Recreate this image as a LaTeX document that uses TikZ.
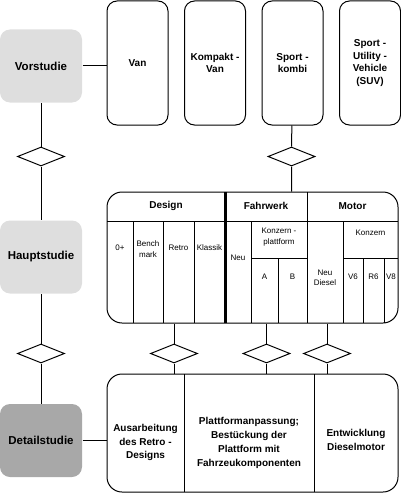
\documentclass[tikz,border=0pt]{standalone}
\usepackage{fontspec}
\setmainfont{Liberation Sans}
\usetikzlibrary{shapes.geometric, positioning}

\begin{document}
\begin{tikzpicture}[x=1pt, y=-1pt, line width=1pt, node distance=15.5pt,
    stage/.style={rectangle, rounded corners=10pt, minimum width=82pt, minimum height=73pt, inner sep=0pt, font=\fontsize{11.5}{13}\selectfont\bfseries},
    car/.style={draw, rectangle, rounded corners=10pt, minimum width=61pt, minimum height=124pt, inner sep=0pt, align=center, font=\fontsize{10}{12.5}\selectfont\bfseries},
    gate/.style={draw, diamond, fill=white, minimum width=47pt, minimum height=19pt, inner sep=0pt},
    head/.style={inner sep=0pt, font=\fontsize{10}{12}\selectfont\bfseries},
    cell/.style={align=center, inner sep=0pt, font=\fontsize{8}{10.5}\selectfont},
    task/.style={align=center, inner sep=0pt, font=\fontsize{10}{13.8}\selectfont\bfseries}]
        \useasboundingbox (0,0) rectangle (400,495);

        % Nodes
        \node (vor) [stage, fill=black!13] at (41,66) {Vorstudie};
        \node (haupt) [stage, fill=black!13] at (41,257) {Hauptstudie};
        \node (detail) [stage, fill=black!34] at (41,440.5) {Detailstudie};

        \node (van) [car] at (137.5,63) {Van};
        \node (kompakt) [car, right=of van] {Kompakt -\\Van};
        \node (kombi) [car, right=of kompakt] {Sport -\\kombi};
        \node (suv) [car, right=of kombi] {Sport -\\Utility -\\Vehicle\\(SUV)};

        % Hauptstudie table
        \node (hbox) [draw, rectangle, rounded corners=15pt, minimum width=291pt, minimum height=131pt, inner sep=0pt] at (252.5,257.5) {};
        \draw (107,221) -- (398,221);
        \draw (133,221) -- (133,323) (163,221) -- (163,323) (194,221) -- (194,323);
        \draw[line width=2.4pt] (225.5,192) -- (225.5,323);
        \draw (251,221) -- (251,323) (251,258) -- (307,258) (278,258) -- (278,323);
        \draw (307,192) -- (307,323);
        \draw (343,221) -- (343,323) (343,258) -- (398,258);
        \draw (363,258) -- (363,323) (384,258) -- (384,323);

        \node (design) [head] at (166,206) {Design};
        \node (fahrwerk) [head] at (266,206) {Fahrwerk};
        \node (motor) [head] at (352.5,206) {Motor};
        \node (nullplus) [cell] at (120,248) {0+};
        \node (bench) [cell] at (148,249) {Bench\\mark};
        \node (retro) [cell] at (178.5,248) {Retro};
        \node (klassik) [cell] at (209.5,248) {Klassik};
        \node (fneu) [cell] at (238,258) {Neu};
        \node (platt) [cell] at (279,237) {Konzern -\\plattform};
        \node (pa) [cell] at (264.5,277) {A};
        \node (pb) [cell] at (292.5,277) {B};
        \node (mneu) [cell] at (325,278) {Neu\\Diesel};
        \node (konzern) [cell] at (370.5,233) {Konzern};
        \node (vsix) [cell] at (353,277) {V6};
        \node (rsix) [cell] at (373.5,277) {R6};
        \node (veight) [cell] at (391,277) {V8};

        % Detailstudie table
        \node (dbox) [draw, rectangle, rounded corners=15pt, minimum width=291pt, minimum height=118pt, inner sep=0pt] at (252.5,433) {};
        \draw (184,374) -- (184,492) (314,374) -- (314,492);
        \node (ausarb) [task] at (145.5,442.5) {Ausarbeitung\\des Retro -\\Designs};
        \node (anpass) [task] at (249,443) {Plattformanpassung;\\Bestückung der\\Plattform mit\\Fahrzeukomponenten};
        \node (entw) [task] at (356,440) {Entwicklung\\Dieselmotor};

        % Gates
        \node (gvor) [gate] at (41,156.5) {};
        \node (gkombi) [gate] at (291.5,156.5) {};
        \node (ghaupt) [gate] at (41,353.5) {};
        \node (gretro) [gate] at (174,353.5) {};
        \node (gplatt) [gate] at (266.5,353.5) {};
        \node (gdiesel) [gate] at (327,353.5) {};

        % Lines
        \draw (vor) -- (gvor) -- (haupt) -- (ghaupt) -- (detail);
        \draw (vor.east) -- (vor.east -| van.west);
        \draw (detail.east) -- (detail.east -| dbox.west);
        \draw (kombi) -- (gkombi) -- (gkombi |- hbox.north);
        \draw (gretro |- hbox.south) -- (gretro) -- (gretro |- dbox.north);
        \draw (gplatt |- hbox.south) -- (gplatt) -- (gplatt |- dbox.north);
        \draw (gdiesel |- hbox.south) -- (gdiesel) -- (gdiesel |- dbox.north);
    \end{tikzpicture}
\end{document}
